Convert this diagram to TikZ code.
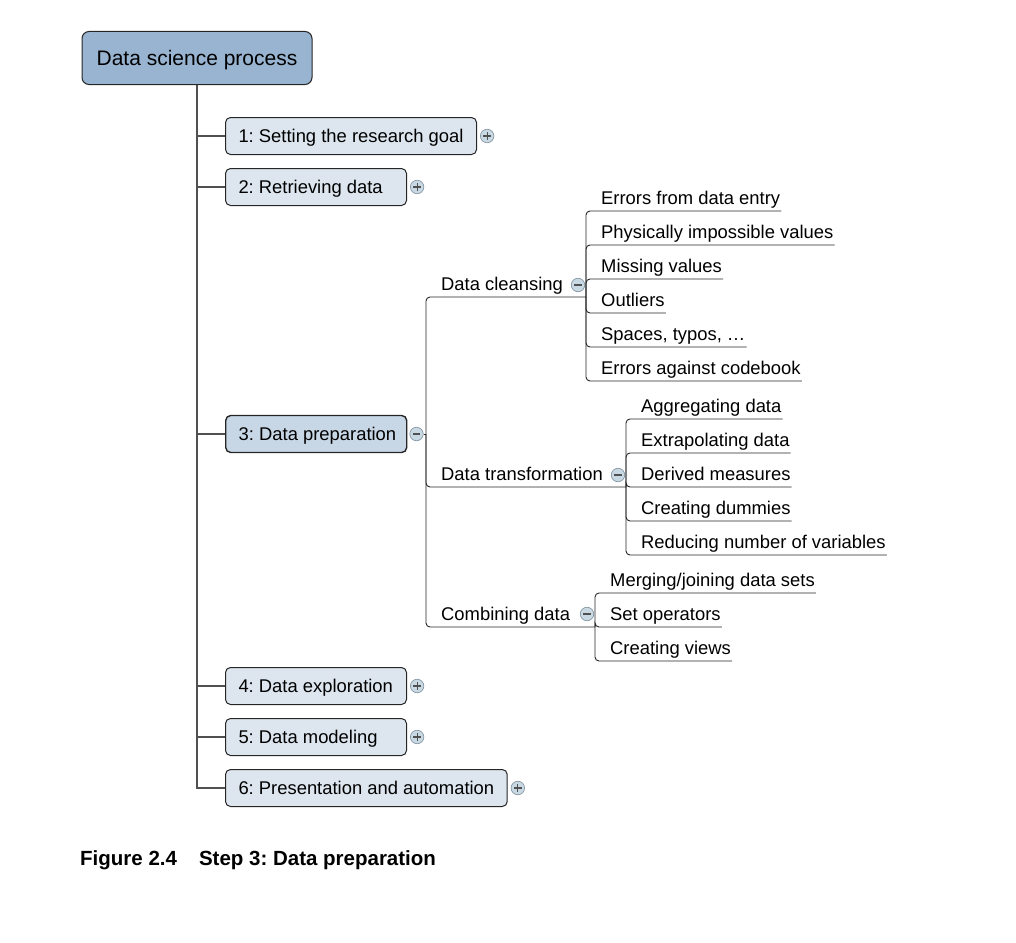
\documentclass[tikz,border=0pt]{standalone}
\usepackage{fontspec}
\setmainfont{Liberation Sans}
\usetikzlibrary{positioning}

\definecolor{rootfill}{RGB}{152,180,209}
\definecolor{stepfill}{RGB}{221,230,239}
\definecolor{stepsel}{RGB}{200,215,230}
\definecolor{togglefill}{RGB}{201,217,227}
\definecolor{togglerim}{RGB}{135,152,165}
\definecolor{trunkgray}{RGB}{80,80,80}

\newcommand\stepfont{\fontsize{18.4}{22}\selectfont\frenchspacing}
\newcommand\padtext[1]{\makebox[155pt][l]{#1}}

\tikzset{
  rootbox/.style = {draw=black!85, line width=1pt, fill=rootfill, rounded corners=7pt,
                    minimum width=230pt, minimum height=53pt, text height=15.3pt, text depth=0pt,
                    font=\fontsize{21}{25}\selectfont},
  stepbox/.style = {draw=black!85, line width=1pt, fill=stepfill, rounded corners=5pt,
                    minimum height=37pt, inner xsep=13pt, text height=13.4pt, text depth=0pt,
                    anchor=west, font=\stepfont},
  toggle/.style = {circle, draw=togglerim, fill=togglefill, line width=0.7pt,
                   minimum size=13.5pt, inner sep=0pt},
  plusbox/.style = {toggle, path picture={
      \draw[trunkgray, line width=1.1pt]
        ([xshift=-3.8pt]path picture bounding box.center) -- ([xshift=3.8pt]path picture bounding box.center)
        ([yshift=-3.8pt]path picture bounding box.center) -- ([yshift=3.8pt]path picture bounding box.center);}},
  minusbox/.style = {toggle, path picture={
      \draw[trunkgray, line width=1.1pt]
        ([xshift=-3.8pt]path picture bounding box.center) -- ([xshift=3.8pt]path picture bounding box.center);}},
  leaf/.style = {anchor=south west, inner xsep=1pt, inner ysep=6pt, text depth=0pt, font=\stepfont},
  trunkline/.style = {draw=trunkgray, line width=1.2pt},
  leafline/.style = {draw=black!85, line width=0.9pt, rounded corners=4pt}
}

\begin{document}
\begin{tikzpicture}[x=1pt, y=-1pt]
  \useasboundingbox (0,0) rectangle (1016,942);

  % root and the six steps
  \node [rootbox] (root) at (197,58) {Data science process};
  \node [stepbox] (s1) at (225,136) {1: Setting the research goal};
  \node [stepbox] (s2) at (225,187) {\padtext{2: Retrieving data}};
  \node [stepbox, fill=stepsel, line width=1.4pt] (s3) at (225,434) {\padtext{3: Data preparation}};
  \node [stepbox] (s4) at (225,686) {\padtext{4: Data exploration}};
  \node [stepbox] (s5) at (225,737) {\padtext{5: Data modeling}};
  \node [stepbox] (s6) at (225,788) {6: Presentation and automation};

  \draw [trunkline] (root.south) |- (s6.west);
  \foreach \s in {s1,s2,s3,s4,s5}
    \draw [trunkline] (root.south |- \s.west) -- (\s.west);

  \foreach \s in {s1,s2,s4,s5,s6}
    \node [plusbox, right=3pt of \s] (t\s) {};
  \node [minusbox, right=2pt of s3] (ts3) {};

  % step 3 branches
  \coordinate (c3) at (426,434);
  \coordinate (j1) at (586,297);
  \coordinate (j2) at (626,487);
  \coordinate (j3) at (595,627);
  \draw [leafline] (ts3.east) -- (c3);

  \node [leaf] (clean) at (440,297) {Data cleansing};
  \node [leaf] (trans) at (440,487) {Data transformation};
  \node [leaf] (comb)  at (440,627) {Combining data};
  \draw [leafline] (c3) |- (clean.south west) -- (j1);
  \draw [leafline] (c3) |- (trans.south west) -- (j2);
  \draw [leafline] (c3) |- (comb.south west) -- (j3);
  \node [minusbox] (tclean) at ([xshift=-8pt, yshift=12pt]j1) {};
  \node [minusbox] (ttrans) at ([xshift=-8pt, yshift=12pt]j2) {};
  \node [minusbox] (tcomb)  at ([xshift=-8pt, yshift=13pt]j3) {};

  % data cleansing
  \foreach \i/\y/\txt in {1/211/Errors from data entry, 2/245/Physically impossible values,
      3/279/Missing values, 4/313/Outliers, 5/347/{Spaces, typos, …}, 6/381/Errors against codebook} {
    \node [leaf] (cl\i) at (600,\y) {\txt};
    \draw [leafline] (j1) |- (cl\i.south west) -- (cl\i.south east);
  }

  % data transformation
  \foreach \i/\y/\txt in {1/419/Aggregating data, 2/453/Extrapolating data, 3/487/Derived measures,
      4/521/Creating dummies, 5/555/Reducing number of variables} {
    \node [leaf] (tr\i) at (640,\y) {\txt};
    \draw [leafline] (j2) |- (tr\i.south west) -- (tr\i.south east);
  }

  % combining data
  \foreach \i/\y/\txt in {1/593/{Merging/joining data sets}, 2/627/Set operators, 3/661/Creating views} {
    \node [leaf] (co\i) at (609,\y) {\txt};
    \draw [leafline] (j3) |- (co\i.south west) -- (co\i.south east);
  }

  % caption
  \node [anchor=base west, inner sep=0pt, font=\bfseries\fontsize{20.5}{24}\selectfont\frenchspacing] (caption)
    at (80,865) {Figure 2.4\hspace{22pt}Step 3: Data preparation};
\end{tikzpicture}
\end{document}
